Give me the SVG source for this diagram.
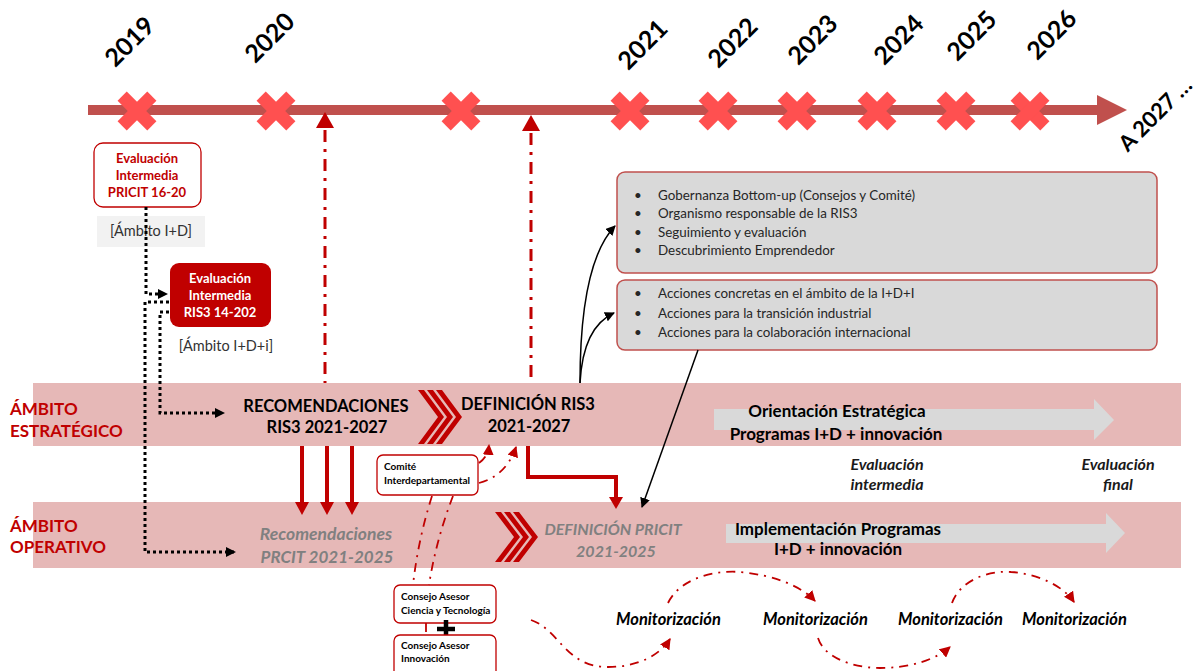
<svg xmlns="http://www.w3.org/2000/svg" width="1201" height="671" viewBox="0 0 1201 671">
<defs>
<style>
text{font-family:Lato,"Liberation Sans",sans-serif}
.yr{font-size:25px;font-weight:700;fill:#000;text-anchor:middle}
.band{fill:#E6B8B7}
.amb{font-size:17px;font-weight:700;fill:#C00000}
.hdr{font-size:16.5px;font-weight:700;fill:#000;text-anchor:middle}
.gr{font-size:16px;font-weight:700;font-style:italic;fill:#808080;text-anchor:middle}
.mid{font-size:17px;font-weight:700;fill:#000;text-anchor:middle}
.ev{font-size:16px;font-weight:700;font-style:italic;fill:#1a1a1a;text-anchor:middle}
.mon{font-size:16.5px;font-weight:700;font-style:italic;fill:#000}
.blt{font-size:13.4px;fill:#262626}
.sm{font-size:10px;font-weight:700;fill:#000}
.bx{font-size:13px;font-weight:700;text-anchor:middle}
.amt{font-size:14.5px;fill:#333;text-anchor:middle}
.dd{fill:none;stroke:#C00000;stroke-width:1.8;stroke-dasharray:9 6 2 6}
.ddt{fill:none;stroke:#C00000;stroke-width:3;stroke-dasharray:12 7 3 7}
.dot{fill:none;stroke:#000;stroke-width:3;stroke-dasharray:3 3}
.blk{fill:none;stroke:#000;stroke-width:1.5}
.red{fill:none;stroke:#C00000;stroke-width:4}
.chev{fill:#C00000}
.xm{fill:#FF5050}
.gbox{fill:#D9D9D9;stroke:#C0504D;stroke-width:1.5}
.wbox{fill:#fff;stroke:#C00000;stroke-width:1.3}
.garr{fill:#D9D9D9}
</style>
<marker id="ab" viewBox="0 0 10 10" refX="9" refY="5" markerWidth="10" markerHeight="10" markerUnits="userSpaceOnUse" orient="auto"><path d="M0,0 L10,5 L0,10 z" fill="#000"/></marker>
<marker id="ar" viewBox="0 0 10 10" refX="9" refY="5" markerWidth="11" markerHeight="11" markerUnits="userSpaceOnUse" orient="auto"><path d="M0,0 L10,5 L0,10 z" fill="#C00000"/></marker>
<g id="x"><rect x="-21" y="-6.5" width="42" height="13" transform="rotate(45)"/><rect x="-21" y="-6.5" width="42" height="13" transform="rotate(-45)"/></g>
</defs>

<g id="bands">
<rect class="band" x="33" y="383" width="1148" height="63"/>
<rect class="band" x="33" y="502" width="1148" height="66"/>
</g>

<g id="timeline">
<rect x="88" y="105" width="1012" height="10" fill="#C0504D"/>
<polygon points="1097,95 1127,110 1097,125" fill="#C0504D"/>
<g class="xm">
<use href="#x" x="137" y="111"/>
<use href="#x" x="276" y="111"/>
<use href="#x" x="461" y="111"/>
<use href="#x" x="630" y="111"/>
<use href="#x" x="718" y="111"/>
<use href="#x" x="797" y="111"/>
<use href="#x" x="877" y="111"/>
<use href="#x" x="956" y="111"/>
<use href="#x" x="1030" y="111"/>
</g>
<text class="yr" transform="translate(130,42) rotate(-45)" y="8">2019</text>
<text class="yr" transform="translate(270,38) rotate(-45)" y="8">2020</text>
<text class="yr" transform="translate(643,45) rotate(-45)" y="8">2021</text>
<text class="yr" transform="translate(733,43) rotate(-45)" y="8">2022</text>
<text class="yr" transform="translate(813,40) rotate(-45)" y="8">2023</text>
<text class="yr" transform="translate(899,40) rotate(-45)" y="8">2024</text>
<text class="yr" transform="translate(972,36) rotate(-45)" y="8">2025</text>
<text class="yr" transform="translate(1052,35) rotate(-45)" y="8">2026</text>
<text class="yr" transform="translate(1155,114) rotate(-45)" y="8" style="font-size:22px">A 2027 …</text>
</g>

<g id="labels">
<text class="amb" x="10" y="415">ÁMBITO</text>
<text class="amb" x="10" y="437">ESTRATÉGICO</text>
<text class="amb" x="10" y="532">ÁMBITO</text>
<text class="amb" x="10" y="553">OPERATIVO</text>
</g>

<g id="n-eval-pricit">
<rect class="wbox" x="94" y="143" width="107" height="64" rx="9"/>
<text class="bx" fill="#C00000" x="147" y="163">Evaluación</text>
<text class="bx" fill="#C00000" x="147" y="180">Intermedia</text>
<text class="bx" fill="#C00000" x="147" y="197">PRICIT 16-20</text>
</g>
<g id="n-ambito-id">
<rect x="97" y="216" width="108" height="31" fill="#F2F2F2"/>
<text class="amt" x="151" y="236">[Ámbito I+D]</text>
</g>
<g id="n-eval-ris3">
<rect x="170" y="263" width="101" height="64" rx="9" fill="#C00000"/>
<text class="bx" fill="#fff" x="220" y="283">Evaluación</text>
<text class="bx" fill="#fff" x="220" y="300">Intermedia</text>
<text class="bx" fill="#fff" x="220" y="317">RIS3 14-202</text>
</g>
<g id="n-ambito-idi">
<text class="amt" x="226" y="351">[Ámbito I+D+i]</text>
</g>

<g id="n-gob">
<rect class="gbox" x="617" y="172" width="540" height="101" rx="8"/>
<text class="blt" x="634" y="200">•</text><text class="blt" x="658" y="200">Gobernanza Bottom-up (Consejos y Comité)</text>
<text class="blt" x="634" y="218">•</text><text class="blt" x="658" y="218">Organismo responsable de la RIS3</text>
<text class="blt" x="634" y="237">•</text><text class="blt" x="658" y="237">Seguimiento y evaluación</text>
<text class="blt" x="634" y="255">•</text><text class="blt" x="658" y="255">Descubrimiento Emprendedor</text>
</g>
<g id="n-acc">
<rect class="gbox" x="617" y="280" width="540" height="70" rx="8"/>
<text class="blt" x="634" y="298">•</text><text class="blt" x="658" y="298">Acciones concretas en el ámbito de la I+D+I</text>
<text class="blt" x="634" y="318">•</text><text class="blt" x="658" y="318">Acciones para la transición industrial</text>
<text class="blt" x="634" y="337">•</text><text class="blt" x="658" y="337">Acciones para la colaboración internacional</text>
</g>

<g id="n-rec-ris3">
<text class="hdr" x="326" y="412">RECOMENDACIONES</text>
<text class="hdr" x="327" y="433">RIS3 2021-2027</text>
</g>
<g id="n-chev1" class="chev">
<polygon points="418,390 424,390 444,417 424,444 418,444 438,417"/>
<polygon points="427,390 433,390 453,417 433,444 427,444 447,417"/>
<polygon points="436,390 442,390 462,417 442,444 436,444 456,417"/>
</g>
<g id="n-def-ris3">
<text class="hdr" x="528" y="410">DEFINICIÓN RIS3</text>
<text class="hdr" x="529" y="432">2021-2027</text>
</g>
<g id="n-orient">
<polygon class="garr" points="714,409 1094,409 1094,399 1114,420 1094,440 1094,430 714,430"/>
<text class="mid" x="837" y="417">Orientación Estratégica</text>
<text class="mid" x="836" y="440">Programas I+D + innovación</text>
</g>
<g id="n-ev-int">
<text class="ev" x="887" y="470">Evaluación</text>
<text class="ev" x="887" y="490">intermedia</text>
</g>
<g id="n-ev-fin">
<text class="ev" x="1118" y="470">Evaluación</text>
<text class="ev" x="1118" y="490">final</text>
</g>

<g id="n-rec-pricit">
<text class="gr" x="326" y="540" style="font-size:17.5px">Recomendaciones</text>
<text class="gr" x="327" y="563" style="font-size:17px">PRCIT 2021-2025</text>
</g>
<g id="n-chev2" class="chev">
<polygon points="495,512 501,512 520,537 501,562 495,562 514,537"/>
<polygon points="504,512 510,512 529,537 510,562 504,562 523,537"/>
<polygon points="513,512 519,512 538,537 519,562 513,562 532,537"/>
</g>
<g id="n-def-pricit">
<text class="gr" x="613" y="535">DEFINICIÓN PRICIT</text>
<text class="gr" x="616" y="557">2021-2025</text>
</g>
<g id="n-impl">
<polygon class="garr" points="726,524 1106,524 1106,513 1125,533 1106,553 1106,543 726,543"/>
<text class="mid" x="838" y="535">Implementación Programas</text>
<text class="mid" x="838" y="555">I+D + innovación</text>
</g>

<g id="n-comite">
<rect class="wbox" x="377" y="455" width="101" height="40" rx="6"/>
<text class="sm" x="384" y="470">Comité</text>
<text class="sm" x="384" y="484">Interdepartamental</text>
</g>
<g id="n-cact">
<rect class="wbox" x="394" y="585" width="102" height="38" rx="6"/>
<text class="sm" x="401" y="600">Consejo Asesor</text>
<text class="sm" x="401" y="614">Ciencia y Tecnología</text>
</g>
<g id="n-plus">
<path d="M437,629 H455 M446,620 V638" stroke="#000" stroke-width="4.5" fill="none"/>
</g>
<g id="n-cai">
<rect class="wbox" x="394" y="635" width="102" height="48" rx="6"/>
<text class="sm" x="401" y="649">Consejo Asesor</text>
<text class="sm" x="401" y="662">Innovación</text>
</g>

<g id="n-mon">
<text class="mon" x="616" y="625">Monitorización</text>
<text class="mon" x="763" y="625">Monitorización</text>
<text class="mon" x="898" y="625">Monitorización</text>
<text class="mon" x="1022" y="625">Monitorización</text>
</g>

<g id="connectors">
<path class="ddt" d="M325,130 V383"/>
<polygon points="316,128 325,112 334,128" fill="#C00000"/>
<path class="ddt" d="M531,133 V383"/>
<polygon points="522,131 531,115 540,131" fill="#C00000"/>

<path class="dot" d="M146,207 V294 H167" marker-end="url(#ab)"/>
<path class="dot" d="M169,302 H145 V552 H235" marker-end="url(#ab)"/>
<path class="dot" d="M169,312 H160 V413 H224" marker-end="url(#ab)"/>

<path class="red" d="M302,446 V503 M327,446 V503 M352,446 V503"/>
<polygon points="295,502 309,502 302,515" fill="#C00000"/>
<polygon points="320,502 334,502 327,515" fill="#C00000"/>
<polygon points="345,502 359,502 352,515" fill="#C00000"/>

<path class="red" d="M528,446 V477 H616 V498"/>
<polygon points="609,497 623,497 616,509" fill="#C00000"/>

<path class="blk" d="M580,383 C580,300 592,250 615,226" marker-end="url(#ab)"/>
<path class="blk" d="M580,383 C582,345 594,322 614,313" marker-end="url(#ab)"/>
<path class="blk" d="M698,350 L642,507" marker-end="url(#ab)"/>

<path class="dd" d="M479,463 Q488,457 489,445" marker-end="url(#ar)"/>
<path class="dd" d="M479,483 Q506,476 516,447" marker-end="url(#ar)"/>
<path class="dd" d="M432,496 Q418,540 413,585"/>
<path class="dd" d="M453,496 Q436,540 429,585"/>
<path class="dd" d="M426,623 V635"/>

<path class="dd" d="M531,620 C560,630 565,667 608,667 C638,667 660,655 670,639" marker-end="url(#ar)"/>
<path class="dd" d="M668,603 C680,578 715,570 740,572 C772,575 800,585 815,601" marker-end="url(#ar)"/>
<path class="dd" d="M818,638 C825,660 858,668 880,668 C910,668 935,660 950,647" marker-end="url(#ar)"/>
<path class="dd" d="M952,603 C960,580 990,570 1011,572 C1040,574 1064,587 1074,602" marker-end="url(#ar)"/>
</g>
</svg>
